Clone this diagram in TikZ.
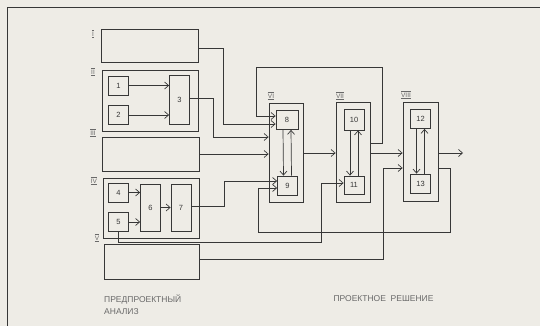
\documentclass[tikz,border=0pt]{standalone}
\usepackage{fontspec}
\setmainfont{Liberation Sans}
\usepackage{tikz}
\usetikzlibrary{arrows.meta, positioning, calc}
\definecolor{myink}{RGB}{55,55,55}
\definecolor{mypaper}{RGB}{238,236,230}
\definecolor{mygrey}{RGB}{105,105,105}
\newcommand{\rnum}[1]{$\overline{\underline{\mbox{#1}}}$}
\tikzset{
  frame/.style={rectangle, draw=myink, line width=0.8pt, inner sep=0pt},
  unit/.style={rectangle, draw=myink, line width=0.8pt, inner sep=0pt,
    minimum width=20pt, minimum height=19pt,
    font=\fontsize{7.5}{8}\selectfont, text=myink},
  tag/.style={font=\fontsize{6.5}{6.5}\selectfont, text=mygrey, inner sep=0pt},
  caption/.style={font=\fontsize{8.5}{12}\selectfont, text=mygrey, inner sep=0pt},
  arrow/.style={-{Straight Barb[length=4pt,width=7pt]}, line width=0.7pt, color=myink},
  line/.style={line width=0.7pt, color=myink}
}

\begin{document}
\begin{tikzpicture}[x=1pt, y=-1pt]
  \fill[mypaper] (0,0) rectangle (540,326);
  \useasboundingbox (0,0) rectangle (540,326);
  \draw[line] (7,326) -- (7,7) -- (540,7);

  % pre-design stages
  \node[frame, minimum width=97pt, minimum height=33pt] (sI) at (149.5,45.5) {};
  \node[frame, minimum width=96pt, minimum height=61pt] (sII) at (150,100.5) {};
  \node[unit] (b1) at (118.5,85.5) {1};
  \node[unit] (b2) at (118.5,115) {2};
  \node[unit, minimum height=49pt] (b3) at (179.5,99.5) {3};
  \node[frame, minimum width=97pt, minimum height=34pt] (sIII) at (150.5,154) {};
  \node[frame, minimum width=96pt, minimum height=60pt] (sIV) at (151,208) {};
  \node[unit] (b4) at (118.5,192.5) {4};
  \node[unit] (b5) at (118.5,222) {5};
  \node[unit, minimum height=47pt] (b6) at (150.5,207.5) {6};
  \node[unit, minimum height=47pt] (b7) at (181,207.5) {7};
  \node[frame, minimum width=95pt, minimum height=35pt] (sV) at (151.5,261.5) {};

  % design stages
  \node[frame, minimum width=34pt, minimum height=99pt] (sVI) at (286,152.5) {};
  \node[unit, minimum width=22pt] (b8) at (287,120) {8};
  \node[unit] (b9) at (287.5,185.5) {9};
  \node[frame, minimum width=34pt, minimum height=100pt] (sVII) at (353,152) {};
  \node[unit, minimum height=21pt] (b10) at (354,119.5) {10};
  \node[unit, minimum height=18pt] (b11) at (354,185) {11};
  \node[frame, minimum width=35pt, minimum height=99pt] (sVIII) at (420.5,151.5) {};
  \node[unit] (b12) at (420.5,119) {12};
  \node[unit] (b13) at (420.5,183.5) {13};
  \coordinate (out) at (463,153);

  % numerals
  \node[tag] at (93,34) {\rnum{I}};
  \node[tag] at (93,72) {\rnum{II}};
  \node[tag] at (93,133) {\rnum{III}};
  \node[tag] at (94,181) {\rnum{IV}};
  \node[tag] at (97,238) {\rnum{V}};
  \node[tag] at (271,96) {\rnum{VI}};
  \node[tag] at (340,96) {\rnum{VII}};
  \node[tag] at (406,95) {\rnum{VIII}};

  % captions
  \node[caption, anchor=north west, align=left] (pre) at (104,295) {ПРЕДПРОЕКТНЫЙ\\АНАЛИЗ};
  \node[caption] (des) at (383.5,299) {ПРОЕКТНОЕ\ \ РЕШЕНИЕ};

  % Paths inside the groups
  \draw[arrow] (b1.east) -- (b1.east -| b3.west);
  \draw[arrow] (b2.east) -- (b2.east -| b3.west);
  \draw[arrow] (b4.east) -- (b4.east -| b6.west);
  \draw[arrow] (b5.east) -- (b5.east -| b6.west);
  \draw[arrow] (b6.east) -- (b7.west);
  \draw[arrow] ($(b8.south)+(-4,0)$) -- ($(b9.north)+(-4,0)$);
  \draw[arrow] ($(b9.north)+(4,0)$) -- ($(b8.south)+(4,0)$);
  \draw[arrow] ($(b10.south)+(-4,0)$) -- ($(b11.north)+(-4,0)$);
  \draw[arrow] ($(b11.north)+(4,0)$) -- ($(b10.south)+(4,0)$);
  \draw[arrow] ($(b12.south)+(-4,0)$) -- ($(b13.north)+(-4,0)$);
  \draw[arrow] ($(b13.north)+(4,0)$) -- ($(b12.south)+(4,0)$);

  % Paths into the design stage
  \draw[arrow] (sI.east |- 0,48) -| (223,124) -- (b8.west |- 0,124);
  \draw[arrow] (b3.east |- 0,98) -| (213,137) -- (sVI.west |- 0,137);
  \draw[arrow] (sIII.east) -- (sVI.west |- sIII.east);
  \draw[arrow] (b7.east |- 0,206) -| (224,181) -- (b9.west |- 0,181);
  \draw[arrow] (b5.south) |- (321,242) |- (b11.west |- 0,183);
  \draw[arrow] (sV.east |- 0,259) -| (383,168) -- (sVIII.west |- 0,168);

  % Forward chain
  \draw[arrow] (sVI.east |- 0,153) -- (sVII.west |- 0,153);
  \draw[arrow] (sVII.east |- 0,153) -- (sVIII.west |- 0,153);
  \draw[arrow] (sVIII.east |- out) -- (out);

  % Feedback loops
  \draw[arrow] (sVII.east |- 0,143) -| (382,67) -| (256,116) -- (b8.west |- 0,116);
  \draw[arrow] (sVIII.east |- 0,168) -| (450,232) -| (258,188) -- (b9.west |- 0,188);
\end{tikzpicture}
\end{document}
